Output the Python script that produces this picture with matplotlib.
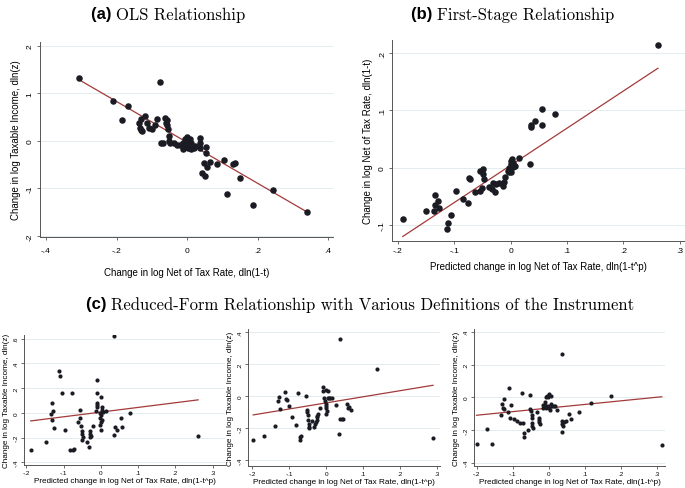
import numpy as np
import matplotlib
matplotlib.use("Agg")
import matplotlib.pyplot as plt
from matplotlib.ticker import FuncFormatter

# ---- panel (a): OLS relationship ----
a_x = [-0.305, -0.078, -0.21, -0.167, -0.185, -0.118, -0.130, -0.135, -0.114, -0.133,
       -0.131, -0.128, -0.108, -0.098, -0.090, -0.084, -0.062, -0.057, -0.060, -0.057,
       -0.055, -0.052, -0.075, -0.069, -0.050, -0.048, -0.038, -0.029, -0.019, -0.011,
       -0.008, -0.011, -0.005, -0.002, 0.000, 0.002, 0.005, 0.008, 0.010, 0.011,
       0.015, 0.019, 0.024, 0.036, 0.036, 0.038, 0.055, 0.055, 0.048, 0.065,
       0.042, 0.052, 0.057, 0.086, 0.105, 0.131, 0.136, 0.112, 0.150, 0.188,
       0.245, 0.339]
a_y = [1.32, 1.23, 0.84, 0.74, 0.44, 0.53, 0.47, 0.37, 0.37, 0.28,
       0.23, 0.20, 0.28, 0.26, 0.33, 0.47, 0.49, 0.44, 0.37, 0.33,
       0.25, 0.11, -0.035, -0.035, 0.0, -0.05, -0.05, -0.08, -0.08, -0.05,
       -0.11, -0.18, 0.035, -0.02, 0.08, -0.14, -0.07, 0.035, -0.16, -0.035,
       -0.11, -0.155, -0.105, 0.07, -0.05, -0.14, -0.12, -0.25, -0.46, -0.44,
       -0.68, -0.74, -0.55, -0.48, -0.41, -0.48, -0.46, -1.11, -0.77, -1.35,
       -1.03, -1.50]
a_fit = (-0.03, -4.3)  # intercept, slope

# ---- panel (b): first stage ----
b_x = [-0.191, -0.149, -0.134, -0.134, -0.135, -0.129, -0.126, -0.113, -0.111, -0.105,
       -0.097, -0.085, -0.076, -0.073, -0.071, -0.063, -0.055, -0.054, -0.051, -0.049,
       -0.048, -0.047, -0.039, -0.033, -0.031, -0.028, -0.025, -0.020, -0.014, -0.012,
       -0.010, -0.004, -0.002, 0.000, 0.001, 0.002, -0.002, 0.001, 0.005, 0.008,
       0.004, 0.015, 0.034, 0.036, 0.037, 0.043, 0.055, 0.055, 0.078, 0.261]
b_y = [-0.089, -0.075, -0.047, -0.066, -0.075, -0.058, -0.071, -0.107, -0.096, -0.082,
       -0.040, -0.055, -0.061, -0.018, -0.020, -0.042, -0.006, -0.040, -0.036, -0.003,
       -0.011, -0.020, -0.034, -0.037, -0.026, -0.042, -0.029, -0.027, -0.032, -0.025,
       -0.017, -0.005, 0.000, 0.006, 0.012, 0.016, -0.008, -0.007, 0.001, 0.003,
       0.009, 0.017, 0.006, 0.075, 0.071, 0.082, 0.075, 0.103, 0.093, 0.215]
b_fit = (0.004, 0.65)

# ---- panel (c): reduced form, three instruments ----
c1_x = [-0.188, -0.148, -0.132, -0.128, -0.133, -0.130, -0.125, -0.112, -0.110, -0.105,
        -0.096, -0.083, -0.074, -0.071, -0.076, -0.055, -0.057, -0.062, -0.053, -0.051,
        -0.050, -0.048, -0.050, -0.038, -0.031, -0.029, -0.029, -0.027, -0.029, -0.021,
        -0.010, -0.010, 0.000, -0.011, -0.010, -0.011, -0.013, 0.004, 0.013, -0.001,
        0.000, -0.001, 0.002, 0.000, -0.001, 0.000, 0.005, 0.002, 0.036, 0.039,
        0.036, 0.043, 0.056, 0.055, 0.079, 0.261]
c1_y = [-0.304, -0.235, 0.077, 0.019, -0.013, -0.056, -0.123, 0.339, 0.296, 0.157,
        -0.141, -0.301, -0.301, -0.291, 0.157, 0.021, -0.040, -0.075, -0.104, -0.147,
        -0.168, -0.195, -0.216, -0.235, -0.275, -0.147, -0.168, -0.185, -0.195, -0.109,
        0.269, 0.157, 0.131, 0.077, 0.064, 0.050, 0.019, 0.045, 0.019, -0.003,
        -0.021, -0.040, -0.056, -0.075, -0.095, -0.136, 0.010, 0.024, 0.624, -0.115,
        -0.176, -0.136, -0.115, -0.040, 0.000, -0.185]
c1_fit = (0.006, 0.38)

c2_x = [-0.198, -0.169, -0.139, -0.131, -0.128, -0.124, -0.112, -0.110, -0.107, -0.101,
        -0.094, -0.083, -0.076, -0.072, -0.071, -0.069, -0.054, -0.051, -0.051, -0.050,
        -0.049, -0.047, -0.047, -0.047, -0.040, -0.034, -0.030, -0.028, -0.026, -0.025,
        -0.024, -0.022, -0.016, -0.010, -0.010, -0.007, -0.004, -0.002, 0.000, 0.000,
        0.002, 0.000, 0.000, 0.005, 0.004, 0.007, 0.011, 0.015, 0.027, 0.035,
        0.036, 0.038, 0.042, 0.046, 0.056, 0.059, 0.062, 0.067, 0.137, 0.289]
c2_y = [-0.273, -0.250, -0.187, -0.027, -0.006, -0.080, 0.027, -0.014, -0.020, -0.060,
        -0.127, -0.180, 0.018, -0.256, -0.270, -0.250, 0.004, -0.088, -0.100, -0.117,
        -0.148, -0.170, -0.190, -0.200, -0.154, -0.190, -0.174, -0.160, -0.145, -0.130,
        -0.120, -0.110, -0.076, 0.057, 0.030, -0.010, -0.030, -0.050, -0.060, -0.075,
        -0.090, -0.110, 0.040, 0.030, -0.010, -0.010, -0.010, -0.010, -0.057, -0.236,
        0.360, -0.144, -0.144, -0.144, -0.050, -0.075, -0.066, -0.086, 0.168, -0.263]
c2_fit = (-0.041, 0.38)

c3_x = [-0.200, -0.172, -0.156, -0.131, -0.129, -0.126, -0.123, -0.124, -0.109, -0.107,
        -0.103, -0.095, -0.089, -0.112, -0.080, -0.071, -0.075, -0.069, -0.069, -0.058,
        -0.052, -0.052, -0.049, -0.047, -0.045, -0.045, -0.045, -0.043, -0.031, -0.027,
        -0.026, -0.026, -0.024, -0.015, -0.010, -0.015, -0.008, -0.005, -0.003, -0.010,
        -0.007, -0.001, 0.001, 0.000, 0.006, 0.005, 0.007, 0.010, 0.014, 0.017,
        0.024, 0.036, 0.036, 0.040, 0.036, 0.038, 0.044, 0.048, 0.057, 0.062,
        0.084, 0.117, 0.173, 0.314]
c3_y = [-0.288, -0.192, -0.284, -0.110, -0.043, -0.063, -0.069, -0.012, 0.055, -0.124,
        -0.049, -0.130, -0.145, -0.090, -0.160, -0.160, 0.024, -0.216, -0.243, -0.200,
        0.012, -0.073, -0.083, -0.110, -0.124, -0.160, -0.175, -0.186, -0.090, -0.124,
        -0.140, -0.150, -0.165, -0.047, -0.047, -0.063, 0.004, 0.010, 0.004, -0.030,
        -0.063, -0.055, -0.067, 0.022, 0.008, -0.080, -0.043, -0.053, -0.053, -0.053,
        -0.080, 0.267, -0.165, -0.176, -0.212, -0.144, -0.150, -0.147, -0.100, -0.130,
        -0.090, -0.037, 0.006, -0.292]
c3_fit = (-0.066, 0.22)

ylab_inc = "Change in log Taxable Income, dln(z)"
ylab_ntr = "Change in log Net of Tax Rate, dln(1-t)"
xlab_ntr = "Change in log Net of Tax Rate, dln(1-t)"
xlab_pred = "Predicted change in log Net of Tax Rate, dln(1-t^p)"

DOT = "#1b1b24"
RED = "#a33a3a"
GRID = "#e3ecee"
SANS = "Liberation Sans"
SERIF = "cmr10"


def stata_fmt(v, pos):
    s = f"{v:g}"
    if s.startswith("0.") and len(s) > 2:
        s = s[1:]
    elif s.startswith("-0.") and len(s) > 3:
        s = "-" + s[2:]
    return s


def panel(ax, x, y, fit, xlim, ylim, xticks, yticks, xlab, ylab,
          dot=22, tick_fs=6, lab_fs=7, xpad=2, ypad=2, xlabpad=5, ylabpad=4):
    x = np.asarray(x)
    ax.scatter(x, y, s=dot, color=DOT, linewidths=0, zorder=3)
    xs = np.array([x.min(), x.max()])
    ax.plot(xs, fit[0] + fit[1] * xs, color=RED, lw=0.9, zorder=2)
    ax.set_xlim(*xlim)
    ax.set_ylim(*ylim)
    ax.set_xticks(xticks)
    ax.set_yticks(yticks)
    ax.xaxis.set_major_formatter(FuncFormatter(stata_fmt))
    ax.yaxis.set_major_formatter(FuncFormatter(stata_fmt))
    for t in yticks:
        ax.axhline(t, color=GRID, lw=0.7, zorder=0)
    for s in ("top", "right"):
        ax.spines[s].set_visible(False)
    for s in ("left", "bottom"):
        ax.spines[s].set_color("#555555")
        ax.spines[s].set_linewidth(0.7)
    ax.tick_params(length=2.5, width=0.6, color="#555555", labelsize=tick_fs)
    ax.tick_params(axis="x", pad=xpad)
    ax.tick_params(axis="y", pad=ypad)
    for lbl in ax.get_yticklabels():
        lbl.set_rotation(90)
        lbl.set_va("center")
    ax.set_xlabel(xlab, fontsize=lab_fs, family=SANS, labelpad=xlabpad)
    ax.set_ylabel(ylab, fontsize=lab_fs, family=SANS, labelpad=ylabpad)


plt.rcParams["font.family"] = SANS
plt.rcParams["axes.unicode_minus"] = False
fig = plt.figure(figsize=(6.85, 4.89), dpi=100)


def fax(l, t, r, b):
    # axes from pixel box
    return fig.add_axes([l / 685, 1 - b / 489, (r - l) / 685, (b - t) / 489])


ax_a = fax(40, 43, 333, 238)
panel(ax_a, a_x, a_y, a_fit, (-0.417, 0.414), (-2.02, 2.08),
      [-0.4, -0.2, 0, 0.2, 0.4], [-2, -1, 0, 1, 2], xlab_ntr, ylab_inc,
      xpad=5, xlabpad=9)

ax_b = fax(392, 41, 685, 242)
panel(ax_b, b_x, b_y, b_fit, (-0.21, 0.309), (-0.128, 0.223),
      [-0.2, -0.1, 0, 0.1, 0.2, 0.3], [-0.1, 0, 0.1, 0.2], xlab_pred, ylab_ntr)

cargs = dict(dot=9, tick_fs=4.6, lab_fs=5.9, xpad=1, ypad=1.5, xlabpad=1.2, ylabpad=2.3)
ax_c1 = fax(24, 336, 225, 466)
panel(ax_c1, c1_x, c1_y, c1_fit, (-0.206, 0.333), (-0.422, 0.63),
      [-0.2, -0.1, 0, 0.1, 0.2, 0.3], [-0.4, -0.2, 0, 0.2, 0.4, 0.6],
      xlab_pred, ylab_inc, **cargs)

ax_c2 = fax(248, 330, 440, 467)
panel(ax_c2, c2_x, c2_y, c2_fit, (-0.212, 0.308), (-0.435, 0.42),
      [-0.2, -0.1, 0, 0.1, 0.2, 0.3], [-0.4, -0.2, 0, 0.2, 0.4],
      xlab_pred, ylab_inc, **cargs)

ax_c3 = fax(474, 330, 665, 467)
panel(ax_c3, c3_x, c3_y, c3_fit, (-0.207, 0.323), (-0.42, 0.417),
      [-0.2, -0.1, 0, 0.1, 0.2, 0.3], [-0.4, -0.2, 0, 0.2, 0.4],
      xlab_pred, ylab_inc, **cargs)

# titles: bold sans letter + serif text, centred as a whole
renderer = fig.canvas.get_renderer()


def title(cx, cy, tag, text, fs):
    t1 = fig.text(0, 0, tag + " ", fontsize=fs, family=SANS, weight="bold",
                  va="center")
    t2 = fig.text(0, 0, text, fontsize=fs, family=SERIF, va="center")
    w1 = t1.get_window_extent(renderer).width
    w2 = t2.get_window_extent(renderer).width
    x0 = cx - (w1 + w2) / 2
    t1.set_position((x0 / 685, 1 - cy / 489))
    t2.set_position(((x0 + w1) / 685, 1 - cy / 489))


title(168, 15, "(a)", "OLS Relationship", 12)
title(513, 15, "(b)", "First-Stage Relationship", 12)
title(360, 305, "(c)", "Reduced-Form Relationship with Various Definitions of the Instrument", 12)

fig.savefig("out.png", dpi=100)
